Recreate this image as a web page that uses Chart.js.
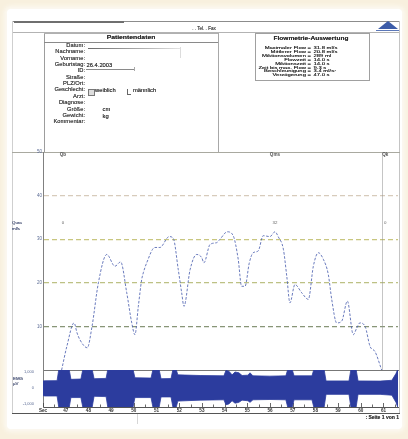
<!DOCTYPE html>
<html lang="de"><head><meta charset="utf-8">
<title>Uroflowmetrie</title>
<script src="https://cdn.jsdelivr.net/npm/chart.js@4.4.1/dist/chart.umd.min.js"></script>
<style>
html,body{margin:0;padding:0}
body{width:408px;height:439px;overflow:hidden;background:#f8f0de;position:relative;font-family:"Liberation Sans",Arial,Helvetica,sans-serif}
#page{position:absolute;left:7px;top:9px;width:395px;height:420px;background:#fff;border-radius:4px;box-shadow:0 0 4px 3px #fcf9f2}
.ln{position:absolute}
.tx{position:absolute;white-space:nowrap;color:#4a4a4a;text-shadow:0 0 0.35px rgba(40,40,40,0.9)}
canvas{position:absolute;left:0;filter:blur(0.2px)}
#txt{position:absolute;left:0;top:0;width:408px;height:439px;filter:blur(0.25px)}
</style></head><body>
<div id="page"></div>
<div id="deco"></div>
<canvas id="flow" width="408" height="228" style="top:146px"></canvas>
<canvas id="emg" width="408" height="50" style="top:366px"></canvas>
<div id="txt"></div>
<script>
// ---------------- data ----------------
const flowTime = [46.82, 47.05, 47.37, 47.50, 47.63, 47.95, 48.16, 48.44, 48.81, 49.17, 49.42, 49.69, 49.91, 50.05, 50.20, 50.35, 50.42, 50.57, 50.93, 51.15, 51.56, 51.74, 51.96, 52.11, 52.21, 52.48, 52.77, 52.99, 53.09, 53.36, 53.65, 53.80, 54.12, 54.38, 54.60, 54.75, 54.90, 55.09, 55.26, 55.48, 55.70, 56.00, 56.22, 56.37, 56.59, 56.74, 56.88, 57.10, 57.40, 57.69, 57.91, 58.13, 58.35, 58.57, 58.72, 58.94, 59.16, 59.41, 59.67, 59.82, 59.96, 60.19, 60.41, 60.63, 60.92];
const flowRate = [0, 5.4, 10.8, 8.5, 6.9, 5.1, 10, 20, 26.5, 23.8, 24.8, 17.7, 10.8, 8.1, 14.6, 20.8, 22.3, 24.6, 28.1, 28.1, 30.6, 30.2, 23, 17.7, 14.6, 23, 26.5, 25.8, 24.6, 28.8, 29.2, 30, 31.7, 30.8, 25.4, 19.2, 19.2, 24.6, 26.9, 27.3, 30.8, 30.6, 31.7, 30.5, 27.7, 21.5, 15.4, 19.6, 17.7, 16.2, 23.8, 26.9, 25.4, 21.9, 16.2, 10.8, 11.2, 15.8, 8.1, 9.6, 10.8, 10, 5.4, 4.2, 0];

const emgTime = [46.00, 46.09, 46.62, 46.70, 47.15, 47.23, 47.67, 47.76, 48.16, 48.25, 48.78, 48.86, 49.96, 50.05, 50.76, 50.85, 51.11, 51.20, 51.64, 51.73, 51.86, 51.94, 52.92, 53.97, 54.06, 54.19, 54.33, 54.46, 54.63, 54.77, 55.03, 55.12, 55.25, 56.00, 56.70, 56.79, 56.97, 57.06, 57.85, 57.94, 58.38, 58.47, 59.48, 59.57, 59.79, 59.88, 60.85, 61.37, 61.55, 61.64];
const emgUpper = [440, 450, 460, 1200, 1200, 540, 560, 1200, 1200, 580, 600, 1200, 1200, 640, 620, 1200, 1200, 580, 590, 1200, 1200, 820, 780, 760, 1100, 1050, 820, 1000, 950, 780, 800, 950, 760, 740, 760, 1200, 1200, 760, 760, 1200, 1200, 440, 440, 1200, 1200, 440, 430, 480, 900, 1200];
const emgLower = [-480, -500, -500, -1250, -1250, -600, -600, -1250, -1250, -520, -540, -1250, -1250, -600, -600, -1250, -1250, -560, -560, -1250, -1250, -820, -760, -740, -1050, -1000, -800, -950, -900, -760, -800, -900, -740, -720, -740, -1250, -1250, -740, -740, -1250, -1250, -400, -400, -1250, -1250, -400, -400, -450, -900, -1250];

const flowTicks = [10, 20, 30, 40, 50];
const emgTicks = [-1000, 0, 1000];
const secTicks = [46, 47, 48, 49, 50, 51, 52, 53, 54, 55, 56, 57, 58, 59, 60, 61];
const secLabels = ['Sec', '47', '48', '49', '50', '51', '52', '53', '54', '55', '56', '57', '58', '59', '60', '61'];

const markerTime = [46.88, 56.22, 60.95];
const markerNames = ['Qb', 'Qms', 'Qk'];
const markerValues = ['0', '32', '0'];

const patientLabels = ['Datum:', 'Nachname:', 'Vorname:', 'Geburtstag:', 'ID:', 'Straße:', 'PLZ/Ort:', 'Geschlecht:', 'Arzt:', 'Diagnose:', 'Größe:', 'Gewicht:', 'Kommentar:'];
const resultLabels = ['Maximaler Flow =', 'Mittlerer Flow =', 'Miktionsvolumen =', 'Flowzeit =', 'Miktionszeit =', 'Zeit bis max. Flow =', 'Beschleunigung =', 'Verzögerung ='];
const resultValues = ['31.8 ml/s', '20.8 ml/s', '289 ml', '14.0 s', '14.0 s', '9.3 s', '3.4 ml/s²', '47.0 s'];

// ---------------- decoration / text ----------------
const deco = document.getElementById('deco');
const txt = document.getElementById('txt');
function line(x, y, w, h, c) {
  const d = document.createElement('div');
  d.className = 'ln';
  d.style.cssText = `left:${x}px;top:${y}px;width:${w}px;height:${h}px;background:${c}`;
  deco.appendChild(d);
  return d;
}
function text(str, x, y, o = {}) {
  const size = o.size || 6;
  const d = document.createElement('div');
  d.className = 'tx';
  d.textContent = str;
  let s = `font-size:${size}px;line-height:${size}px;top:${y - size / 2}px;`;
  if (o.align === 'right') s += `left:${x - 300}px;width:300px;text-align:right;`;
  else if (o.align === 'center') s += `left:${x - 150}px;width:300px;text-align:center;`;
  else s += `left:${x}px;`;
  if (o.bold) s += 'font-weight:bold;';
  if (o.color) s += `color:${o.color};`;
  s += `transform:scaleY(${o.sy || 1});`;
  d.style.cssText += s;
  txt.appendChild(d);
}

// page frame
line(12, 21, 388, 1, '#8c8c8c');
line(14, 21, 110, 1.5, '#6f6f6f');
line(12, 32, 388, 1, '#b3b3b3');
line(12, 21, 1, 392, '#cfcfcf');
line(399, 21, 1, 392, '#c4c4c4');
line(12, 152, 388, 1, '#a9a9a0');
line(12, 413, 388, 1, '#555');
line(137, 414, 1, 10, '#d6d6d6');
// patient box
line(44, 33, 1, 119, '#9d9d9d');
line(218, 33, 1, 119, '#a8a8a8');
line(44, 33, 174, 1, '#b0b0b0');
line(44, 41.5, 174, 1, '#8a8a8a');
const dl = line(88, 47.5, 92, 1.5, '#777'); dl.style.background = 'linear-gradient(90deg,#6a6a6a,#bbb 70%,#e4e4e4)';
line(180, 47, 1, 11, '#dcdcdc');
line(86, 68.5, 49, 1, '#8a8a8a');
line(134, 67, 1, 4, '#aaa');
// checkboxes
const cb1 = line(88, 88.5, 5, 5, '#ddd'); cb1.style.border = '0.6px solid #777';
line(127, 89, 0.8, 5, '#666'); line(127, 93.5, 4, 0.8, '#666');
// result box
const rb = line(255, 33, 113, 46, 'transparent'); rb.style.border = '1px solid #a0a0a0';
// logo
const lg = document.createElement('div');
lg.className = 'ln';
lg.style.cssText = 'left:378px;top:21px;width:0;height:0;border-left:10px solid transparent;border-right:10px solid transparent;border-bottom:8px solid #3c5ca8';
deco.appendChild(lg);
line(376, 29.5, 23, 1.5, '#5b77b8');

// header text
text('. . Tel. . Fax', 204, 29, {size: 4.6, align: 'center', color: '#555'});
// patient data
text('Patientendaten', 131, 37.7, {size: 6.8, align: 'center', bold: true, color: '#333', sy: 0.8});
patientLabels.forEach((l, i) => text(l, 85, 45.7 + 6.38 * i, {size: 5.8, align: 'right', color: '#4a4a4a', sy: 0.8}));
text('26.4.2003', 86.5, 65.4, {size: 5.8, color: '#3a3a3a', sy: 0.8});
text('weiblich', 95, 91, {size: 5.8, color: '#3a3a3a', sy: 0.8});
text('männlich', 133, 91, {size: 5.8, color: '#3a3a3a', sy: 0.8});
text('cm', 102.5, 110.2, {size: 5.8, color: '#3a3a3a', sy: 0.8});
text('kg', 102.5, 116.6, {size: 5.8, color: '#3a3a3a', sy: 0.8});
// result data
text('Flowmetrie-Auswertung', 311, 38.3, {size: 6.6, align: 'center', bold: true, color: '#2e2e2e', sy: 0.75});
resultLabels.forEach((l, i) => text(l, 311, 48 + 3.9 * i, {size: 5.9, align: 'right', color: '#2a2a2a', sy: 0.64}));
resultValues.forEach((v, i) => text(v, 313.5, 48 + 3.9 * i, {size: 5.9, color: '#2a2a2a', sy: 0.64}));
// axis titles
text('Qura', 12, 223.5, {size: 4.4, color: '#5a6aa0'});
text('ml/s', 12, 229, {size: 4.4, color: '#5a6aa0'});
text('EMG', 13, 379, {size: 4.4, color: '#5a6aa0'});
text('µV', 13, 384, {size: 4.4, color: '#5a6aa0'});
text(': Seite 1 von 1', 399, 417.5, {size: 5, align: 'right', bold: true, color: '#444'});

// ---------------- charts ----------------
const FONT = '"Liberation Sans", Arial, sans-serif';
const xMin = 46, xMax = 61.64;

function gridColor(v) {
  if (v === 10) return 'rgba(115,130,95,0.85)';
  if (v === 20) return 'rgba(178,182,110,0.85)';
  if (v === 30) return 'rgba(190,188,105,0.85)';
  if (v === 40) return 'rgba(205,190,170,0.8)';
  return 'rgba(0,0,0,0)';
}

const markerPlugin = {
  id: 'markers',
  afterDraw(chart) {
    const {ctx, scales: {x}, chartArea} = chart;
    ctx.save();
    const xl = Math.round(x.getPixelForValue(markerTime[markerTime.length - 1])) + 0.5;
    ctx.strokeStyle = 'rgba(150,150,150,0.55)';
    ctx.lineWidth = 1;
    ctx.beginPath(); ctx.moveTo(xl, chartArea.top); ctx.lineTo(xl, chartArea.bottom); ctx.stroke();
    ctx.textAlign = 'center'; ctx.textBaseline = 'middle';
    markerTime.forEach((t, i) => {
      const px = x.getPixelForValue(t) + (i === markerTime.length - 1 ? 3 : 0);
      ctx.font = `bold 4.6px ${FONT}`; ctx.fillStyle = '#555';
      ctx.fillText(markerNames[i], px, chartArea.top + 3);
      ctx.font = `4.4px ${FONT}`; ctx.fillStyle = '#666';
      ctx.fillText(markerValues[i], px, chartArea.top + 71);
    });
    ctx.restore();
  }
};

new Chart(document.getElementById('flow'), {
  type: 'line',
  data: {
    datasets: [{
      data: flowTime.map((t, i) => ({x: t, y: flowRate[i]})),
      borderColor: 'rgba(80,100,178,0.85)',
      borderWidth: 1,
      borderDash: [2.6, 1.6],
      pointRadius: 0,
      cubicInterpolationMode: 'monotone',
      fill: false
    }]
  },
  options: {
    responsive: false, animation: false, devicePixelRatio: 1,
    layout: {padding: {left: 0, right: 10, top: 6, bottom: 4}},
    plugins: {legend: {display: false}, tooltip: {enabled: false}},
    scales: {
      x: {type: 'linear', min: xMin, max: xMax, display: false},
      y: {
        min: 0, max: 50,
        afterFit: s => { s.width = 43; },
        afterBuildTicks: s => { s.ticks = flowTicks.map(v => ({value: v})); },
        ticks: {font: {size: 4.5, family: FONT}, color: '#5b6b95', padding: 1},
        grid: {drawTicks: false, color: c => gridColor(c.tick && c.tick.value), lineWidth: 1.2},
        border: {display: true, color: '#808080', width: 1, dash: [5, 3]}
      }
    }
  },
  plugins: [markerPlugin]
});

const tickPlugin = {
  id: 'minorTicks',
  beforeDatasetsDraw(chart) {
    const {ctx, scales: {x}, chartArea} = chart;
    ctx.save();
    ctx.strokeStyle = '#444'; ctx.lineWidth = 0.8;
    for (let k = 0; xMin + k * 0.5 <= xMax; k++) {
      const px = Math.round(x.getPixelForValue(xMin + k * 0.5)) + 0.5;
      const len = k % 2 === 0 ? 4 : 2.5;
      ctx.beginPath(); ctx.moveTo(px, chartArea.bottom); ctx.lineTo(px, chartArea.bottom - len); ctx.stroke();
    }
    ctx.restore();
  }
};

const EMG_BLUE = 'rgb(44,60,158)';
new Chart(document.getElementById('emg'), {
  type: 'line',
  data: {
    datasets: [
      {data: emgTime.map((t, i) => ({x: t, y: emgUpper[i]})), borderColor: EMG_BLUE, borderWidth: 0.8, pointRadius: 0, tension: 0, fill: false},
      {data: emgTime.map((t, i) => ({x: t, y: emgLower[i]})), borderColor: EMG_BLUE, borderWidth: 0.8, pointRadius: 0, tension: 0, fill: '-1', backgroundColor: EMG_BLUE}
    ]
  },
  options: {
    responsive: false, animation: false, devicePixelRatio: 1,
    layout: {padding: {left: 0, right: 10, top: 4, bottom: 3}},
    plugins: {legend: {display: false}, tooltip: {enabled: false}},
    scales: {
      x: {
        type: 'linear', min: xMin, max: xMax,
        afterFit: s => { s.height = 6; },
        afterBuildTicks: s => { s.ticks = secTicks.map(v => ({value: v})); },
        ticks: {callback: (v, i) => secLabels[i], font: {size: 4.6, weight: 'bold', family: FONT}, color: '#333', padding: 1, maxRotation: 0, autoSkip: false},
        grid: {display: false, drawTicks: false},
        border: {display: true, color: '#555', width: 1}
      },
      y: {
        min: -1190, max: 1125,
        afterFit: s => { s.width = 43; },
        afterBuildTicks: s => { s.ticks = emgTicks.map(v => ({value: v})); },
        ticks: {font: {size: 4, family: FONT}, color: '#5b6b95', padding: 1},
        grid: {display: false},
        border: {display: true, color: '#808080', width: 1}
      }
    }
  },
  plugins: [tickPlugin]
});
line(43, 370, 356, 1, '#777');
</script>
</body></html>
